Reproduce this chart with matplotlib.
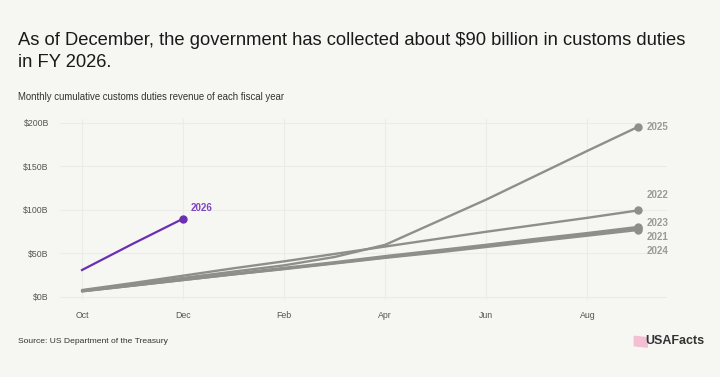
import matplotlib
matplotlib.use("Agg")
import matplotlib.pyplot as plt
from matplotlib.patches import Polygon

plt.rcParams["font.family"] = ["Liberation Sans", "DejaVu Sans"]

# Fiscal-year months (Oct..Sep), cumulative customs duties revenue in $B
months = ["Oct", "Nov", "Dec", "Jan", "Feb", "Mar", "Apr", "May", "Jun", "Jul", "Aug", "Sep"]
tick_months = ["Oct", "Dec", "Feb", "Apr", "Jun", "Aug"]

fy2021 = [6.5, 13.0, 19.5, 26.0, 32.5, 39.0, 45.5, 52.0, 59.0, 65.5, 72.0, 79.0]
fy2022 = [8.0, 16.0, 24.5, 33.0, 41.0, 49.5, 58.0, 66.5, 75.0, 83.0, 91.0, 99.5]
fy2023 = [7.0, 13.5, 20.5, 27.0, 33.5, 40.0, 47.0, 53.5, 60.0, 67.0, 73.5, 80.5]
fy2024 = [6.5, 13.0, 19.5, 26.0, 32.0, 38.5, 45.0, 51.0, 57.5, 64.0, 70.5, 77.0]
fy2025 = [7.3, 14.6, 21.9, 29.2, 36.4, 46.0, 60.0, 86.0, 112.0, 140.0, 168.0, 195.5]
fy2026 = [31.0, 61.0, 90.0]

gray_series = [("2025", fy2025), ("2022", fy2022), ("2023", fy2023),
               ("2021", fy2021), ("2024", fy2024)]
# where each end label sits (spread apart so they don't overlap)
label_vals = {"2025": 195.5, "2022": 117.0, "2023": 85.0, "2021": 68.5, "2024": 52.5}

y_ticks = [0, 50, 100, 150, 200]
y_labels = ["$0B", "$50B", "$100B", "$150B", "$200B"]

BG = "#f6f6f3"
GRAY = "#8e8e8a"
PURPLE = "#6b2fb3"

fig = plt.figure(figsize=(7.2, 3.77), dpi=100, facecolor=BG)
ax = fig.add_axes([0.0833, 0.2053, 0.843, 0.48])
ax.set_facecolor(BG)

x_all = list(range(len(months)))
for name, vals in gray_series:
    ax.plot(x_all, vals, color=GRAY, lw=1.7, solid_capstyle="round", zorder=3)
    ax.plot(x_all[-1], vals[-1], "o", color=GRAY, ms=5, zorder=4)
    ax.text(x_all[-1] + 0.17, label_vals[name], name, color="#9a9a96",
            fontsize=7, fontweight="bold", va="center", ha="left")

x26 = list(range(len(fy2026)))
ax.plot(x26, fy2026, color=PURPLE, lw=1.6, zorder=5)
ax.plot(x26[-1], fy2026[-1], "o", color=PURPLE, ms=5, zorder=6)
ax.text(x26[-1] + 0.15, fy2026[-1] + 12, "2026", color="#7d45c0",
        fontsize=7, fontweight="bold", va="center", ha="left")

ax.set_xlim(-0.436, 11.574)
ax.set_ylim(-3, 205)
ax.set_xticks([months.index(m) for m in tick_months])
ax.set_xticklabels(tick_months)
ax.set_yticks(y_ticks)
ax.set_yticklabels(y_labels)
ax.tick_params(length=0, labelsize=6.3, labelcolor="#555555", pad=8)
ax.grid(True, color="#ebebe7", lw=0.8)
for s in ax.spines.values():
    s.set_visible(False)

fig.text(0.025, 0.893, "As of December, the government has collected about $90 billion in customs duties",
         fontsize=13.2, color="#1a1a1a", va="center", ha="left")
fig.text(0.025, 0.834, "in FY 2026.", fontsize=13.2, color="#1a1a1a", va="center", ha="left")
fig.text(0.025, 0.742, "Monthly cumulative customs duties revenue of each fiscal year",
         fontsize=6.9, color="#333333", va="center", ha="left")
fig.text(0.025, 0.095, "Source: US Department of the Treasury",
         fontsize=6.1, color="#333333", va="center", ha="left")
fig.text(0.978, 0.095, "USAFacts", fontsize=9, fontweight="bold", color="#333333",
         va="center", ha="right")
# small pink flag mark of the logo
fig.patches.append(Polygon([(0.881, 0.083), (0.881, 0.108), (0.899, 0.104), (0.899, 0.079)],
                           closed=True, transform=fig.transFigure, color="#f2c0d2"))

fig.savefig("out.png", dpi=100, facecolor=BG)
